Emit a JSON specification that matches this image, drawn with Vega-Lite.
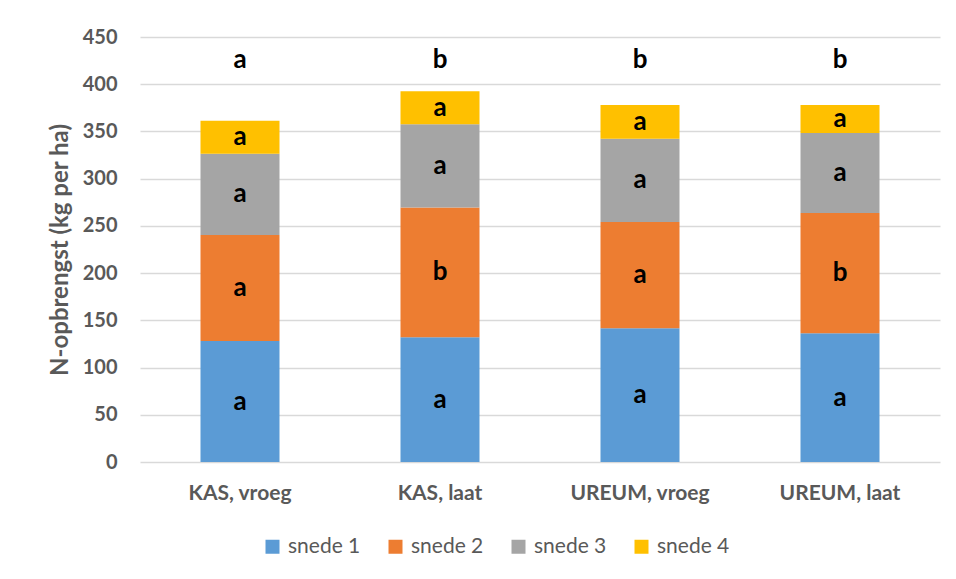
{
  "$schema": "https://vega.github.io/schema/vega-lite/v6.json",
  "width": 800,
  "height": 425,
  "autosize": {"type": "none"},
  "padding": {"left": 140, "top": 37, "right": 16, "bottom": 117},
  "background": "white",
  "config": {"view": {"stroke": null}, "font": "Lato"},
  "datasets": {
    "yields": [
      {"behandeling": "KAS, vroeg", "snede": "snede 1", "opbrengst": 128, "letter": "a"},
      {"behandeling": "KAS, vroeg", "snede": "snede 2", "opbrengst": 112.4, "letter": "a"},
      {"behandeling": "KAS, vroeg", "snede": "snede 3", "opbrengst": 86, "letter": "a"},
      {"behandeling": "KAS, vroeg", "snede": "snede 4", "opbrengst": 35, "letter": "a"},
      {"behandeling": "KAS, laat", "snede": "snede 1", "opbrengst": 132, "letter": "a"},
      {"behandeling": "KAS, laat", "snede": "snede 2", "opbrengst": 137.5, "letter": "b"},
      {"behandeling": "KAS, laat", "snede": "snede 3", "opbrengst": 88, "letter": "a"},
      {"behandeling": "KAS, laat", "snede": "snede 4", "opbrengst": 35, "letter": "a"},
      {"behandeling": "UREUM, vroeg", "snede": "snede 1", "opbrengst": 141.5, "letter": "a"},
      {"behandeling": "UREUM, vroeg", "snede": "snede 2", "opbrengst": 112.7, "letter": "a"},
      {"behandeling": "UREUM, vroeg", "snede": "snede 3", "opbrengst": 88, "letter": "a"},
      {"behandeling": "UREUM, vroeg", "snede": "snede 4", "opbrengst": 35.8, "letter": "a"},
      {"behandeling": "UREUM, laat", "snede": "snede 1", "opbrengst": 136.2, "letter": "a"},
      {"behandeling": "UREUM, laat", "snede": "snede 2", "opbrengst": 127.5, "letter": "b"},
      {"behandeling": "UREUM, laat", "snede": "snede 3", "opbrengst": 84.6, "letter": "a"},
      {"behandeling": "UREUM, laat", "snede": "snede 4", "opbrengst": 29.7, "letter": "a"}
    ],
    "tops": [
      {"behandeling": "KAS, vroeg", "letter": "a"},
      {"behandeling": "KAS, laat", "letter": "b"},
      {"behandeling": "UREUM, vroeg", "letter": "b"},
      {"behandeling": "UREUM, laat", "letter": "b"}
    ]
  },
  "layer": [
    {
      "data": {"name": "yields"},
      "mark": {"type": "bar"},
      "encoding": {
        "x": {
          "field": "behandeling", "type": "nominal",
          "sort": ["KAS, vroeg", "KAS, laat", "UREUM, vroeg", "UREUM, laat"],
          "scale": {"paddingInner": 0.605, "paddingOuter": 0.3025},
          "title": null,
          "axis": {"labelAngle": 0, "labelFontSize": 21, "labelFontWeight": "bold", "labelColor": "#595959", "labelPadding": 20, "ticks": false, "domain": false}
        },
        "y": {
          "field": "opbrengst", "type": "quantitative", "stack": "zero",
          "scale": {"domain": [0, 450], "nice": false},
          "title": "N-opbrengst (kg per ha)",
          "axis": {"values": [0, 50, 100, 150, 200, 250, 300, 350, 400, 450], "labelFontSize": 20, "labelFontWeight": "bold", "labelColor": "#595959", "labelPadding": 23, "ticks": false, "domain": false, "grid": true, "gridColor": "#d9d9d9", "gridWidth": 1.5, "titleFontSize": 24, "titleFontWeight": "bold", "titleColor": "#595959", "titlePadding": 10}
        },
        "color": {
          "field": "snede", "type": "nominal",
          "scale": {"domain": ["snede 1", "snede 2", "snede 3", "snede 4"], "range": ["#5b9bd5", "#ed7d31", "#a5a5a5", "#ffc000"]},
          "legend": {"orient": "none", "legendX": 122, "legendY": 499, "direction": "horizontal", "title": null, "symbolType": "square", "symbolSize": 196, "symbolStrokeWidth": 0, "labelFontSize": 21, "labelColor": "#595959", "labelOffset": 5, "columnPadding": 24}
        },
        "order": {"field": "snede", "sort": "ascending"}
      }
    },
    {
      "data": {"name": "yields"},
      "transform": [
        {"stack": "opbrengst", "groupby": ["behandeling"], "sort": [{"field": "snede", "order": "ascending"}], "as": ["y0", "y1"]},
        {"calculate": "(datum.y0 + datum.y1) / 2", "as": "ymid"}
      ],
      "mark": {"type": "text", "fontSize": 26, "fontWeight": "bold", "color": "black", "baseline": "middle"},
      "encoding": {
        "x": {"field": "behandeling", "type": "nominal", "sort": ["KAS, vroeg", "KAS, laat", "UREUM, vroeg", "UREUM, laat"]},
        "y": {"field": "ymid", "type": "quantitative"},
        "text": {"field": "letter"}
      }
    },
    {
      "data": {"name": "tops"},
      "mark": {"type": "text", "fontSize": 26, "fontWeight": "bold", "color": "black", "baseline": "middle"},
      "encoding": {
        "x": {"field": "behandeling", "type": "nominal", "sort": ["KAS, vroeg", "KAS, laat", "UREUM, vroeg", "UREUM, laat"]},
        "y": {"datum": 426},
        "text": {"field": "letter"}
      }
    }
  ]
}
